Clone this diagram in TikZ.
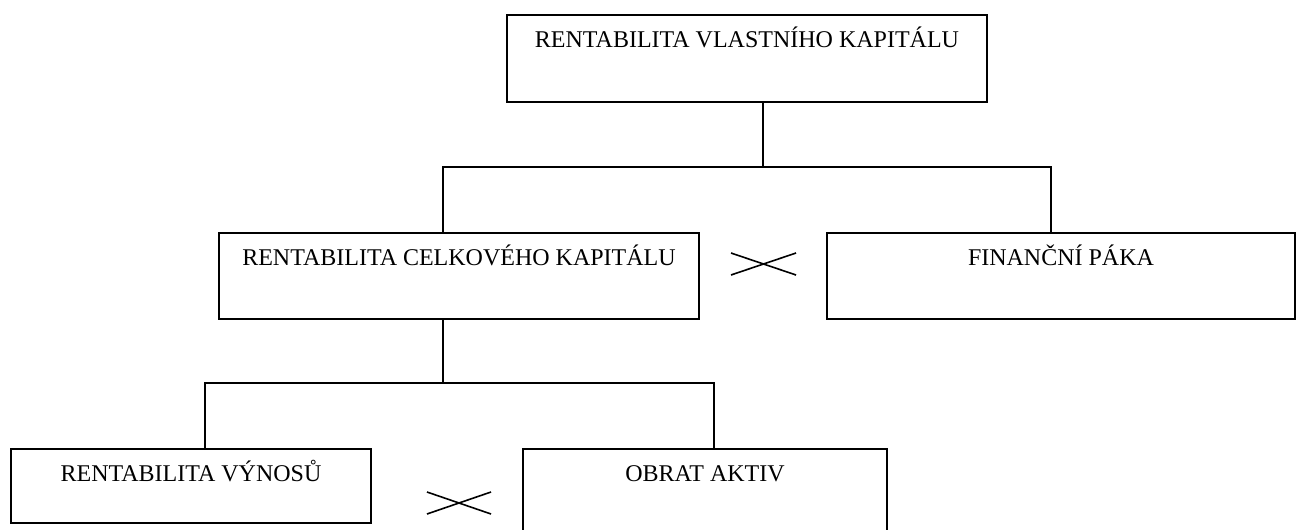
\documentclass[tikz,border=0pt]{standalone}
\usepackage{fontspec}
\setmainfont{Liberation Serif}
\begin{document}
\begin{tikzpicture}[x=1pt,y=-1pt,
  box/.style={draw,line width=1.8pt,rectangle,inner sep=0pt,anchor=north,
    font=\fontsize{24}{28}\selectfont,text height=33pt},
  conn/.style={line width=1.8pt},
  crossline/.style={line width=1.6pt}]
\useasboundingbox (0,0) rectangle (1296,530);
\node[box,minimum width=480pt,minimum height=87pt,text depth=54pt] (top) at (747,14) {RENTABILITA VLASTNÍHO KAPITÁLU};
\node[box,minimum width=480pt,minimum height=86pt,text depth=53pt] (rck) at (459,232) {RENTABILITA CELKOVÉHO KAPITÁLU};
\node[box,minimum width=468pt,minimum height=86pt,text depth=53pt] (fp) at (1061,232) {FINANČNÍ PÁKA};
\node[box,minimum width=360pt,minimum height=74pt,text depth=41pt] (rv) at (191,448) {RENTABILITA VÝNOSŮ};
\node[box,minimum width=364pt,minimum height=90pt,text depth=57pt] (oa) at (705,448) {OBRAT AKTIV};
\coordinate (j1) at (763,167);
\coordinate (rckIn) at (443,232);
\coordinate (fpIn) at (1051,232);
\coordinate (rckOut) at (443,318);
\coordinate (j2) at (443,383);
\coordinate (rvIn) at (205,448);
\coordinate (oaIn) at (714,448);
\draw[conn] (top.south -| j1) -- (j1);
\draw[conn] (j1) -| (rckIn);
\draw[conn] (j1) -| (fpIn);
\draw[conn] (rckOut) -- (j2);
\draw[conn] (j2) -| (rvIn);
\draw[conn] (j2) -| (oaIn);
\coordinate (c1a) at (731,253);
\coordinate (c1b) at (796,275);
\coordinate (c1c) at (731,275);
\coordinate (c1d) at (796,253);
\draw[crossline] (c1a) -- (c1b);
\draw[crossline] (c1c) -- (c1d);
\coordinate (c2a) at (427,492);
\coordinate (c2b) at (491,514);
\coordinate (c2c) at (427,514);
\coordinate (c2d) at (491,492);
\draw[crossline] (c2a) -- (c2b);
\draw[crossline] (c2c) -- (c2d);
\end{tikzpicture}
\end{document}
